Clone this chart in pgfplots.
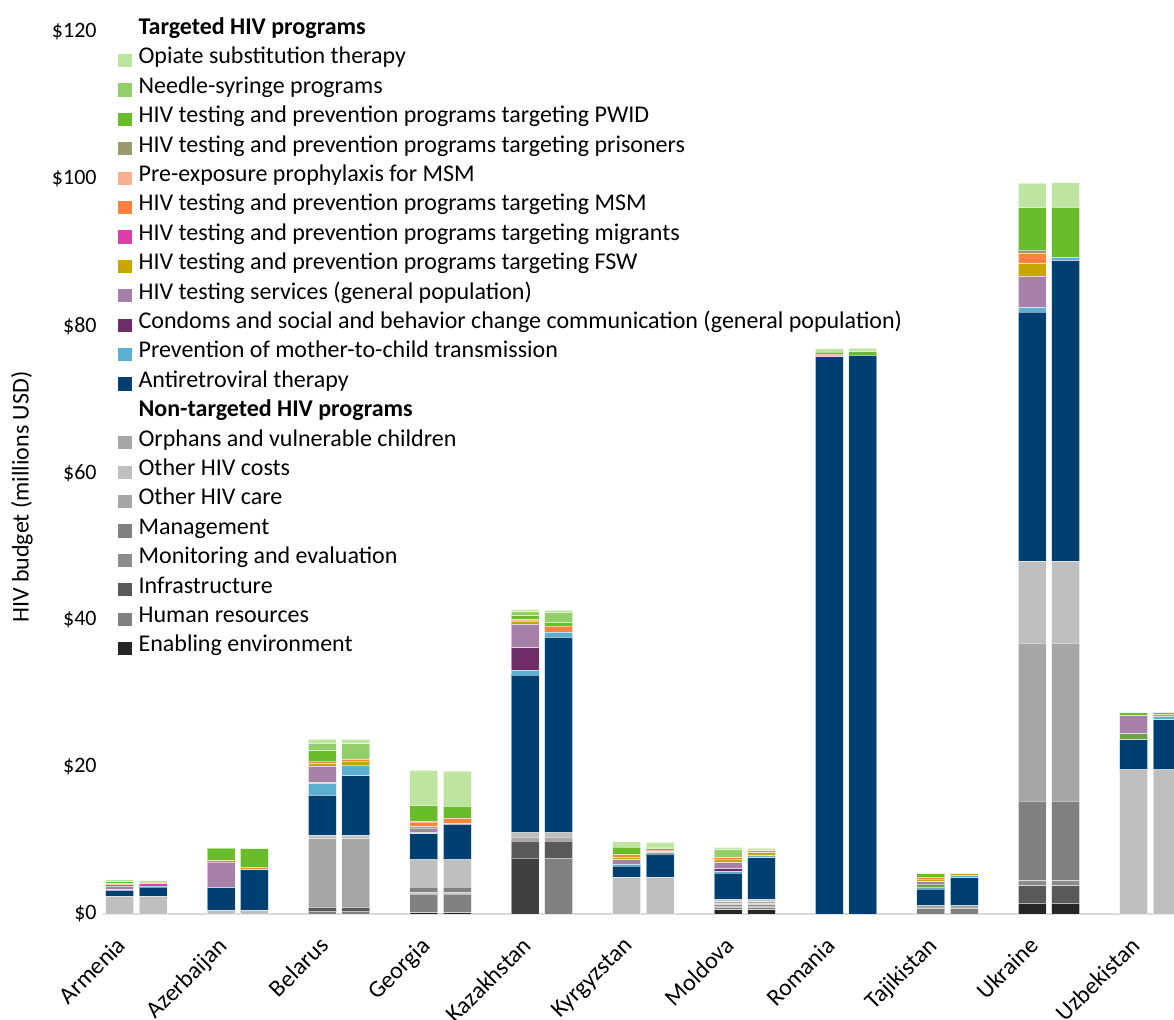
\documentclass[border=0pt]{standalone}
\usepackage{fontspec}
\setmainfont{Carlito}
\usepackage{pgfplots}
\usepackage{pgfplotstable}
\pgfplotsset{compat=1.18}

\definecolor{cEE}{HTML}{262626}
\definecolor{cKZ}{HTML}{404040}
\definecolor{cHR}{HTML}{808080}
\definecolor{cINF}{HTML}{595959}
\definecolor{cME}{HTML}{8C8C8C}
\definecolor{cMG}{HTML}{808080}
\definecolor{cOC}{HTML}{A6A6A6}
\definecolor{cOCO}{HTML}{BFBFBF}
\definecolor{cOVC}{HTML}{A6A6A6}
\definecolor{cART}{HTML}{003F72}
\definecolor{cPMTCT}{HTML}{5BAFD0}
\definecolor{cCON}{HTML}{6E2C69}
\definecolor{cUNL}{HTML}{6EA245}
\definecolor{cTST}{HTML}{A680A8}
\definecolor{cFSW}{HTML}{C8A800}
\definecolor{cMIG}{HTML}{DE3DAC}
\definecolor{cMSM}{HTML}{FF8040}
\definecolor{cPREP}{HTML}{F8B090}
\definecolor{cPRI}{HTML}{9A9A6A}
\definecolor{cPWID}{HTML}{6ABD2A}
\definecolor{cNSP}{HTML}{92CF68}
\definecolor{cOST}{HTML}{BDE5A0}

\pgfplotstableread{
x EE KZ HR INF ME MG OC OCO OVC ART PMTCT CON UNL TST FSW MIG MSM PREP PRI PWID NSP OST
-0.165 0 0 0 0 0 0 0 2.4 0 0.8 0.1 0 0 0.45 0.05 0.2 0.1 0 0 0.3 0 0.25
0.165 0 0 0 0 0 0 0 2.4 0 1.25 0.15 0 0 0 0 0.3 0.05 0 0 0 0 0.4
0.835 0 0 0 0 0 0 0 0.5 0 3.1 0 0 0 3.45 0.2 0 0 0 0 1.7 0 0
1.165 0 0 0 0 0 0 0 0.5 0 5.5 0.1 0 0 0 0 0 0.25 0 0 2.55 0 0
1.835 0 0 0.4 0.5 0 0 9.4 0.35 0 5.5 1.55 0 0.15 2.25 0.35 0 0.35 0 0 1.4 1.0 0.6
2.165 0 0 0.4 0.5 0 0 9.4 0.35 0 8.15 1.45 0 0 0 0.55 0 0.25 0 0 0 2.1 0.6
2.835 0.15 0 2.55 0.1 0.1 0.75 0 3.7 0 3.55 0.15 0 0 0.65 0.2 0 0.6 0.15 0 2.1 0 4.8
3.165 0.15 0 2.55 0.1 0.1 0.75 0 3.7 0 4.85 0.1 0 0 0 0 0 0.7 0 0 1.65 0 4.8
3.835 0 7.6 0 2.3 0 0 0.55 0.6 0 21.45 0.65 3.05 0 3.2 0.45 0 0 0.25 0 0.5 0.5 0.3
4.165 0 0 7.6 2.3 0 0 0.55 0.6 0 26.6 0.65 0 0 0 0 0 0.85 0 0 0.5 1.4 0.3
4.835 0 0 0 0 0 0 0 5.0 0 1.5 0.25 0 0 0.6 0.3 0 0.4 0 0 1.05 0 0.7
5.165 0 0 0 0 0 0 0 5.0 0 3.15 0.2 0 0 0 0.1 0 0.25 0 0 0.2 0.2 0.6
5.835 0.55 0 0.3 0.2 0.2 0.15 0.3 0.25 0 3.6 0.25 0.35 0 0.8 0.5 0 0.2 0 0 0 1.1 0.3
6.165 0.55 0 0.3 0.2 0.2 0.15 0.3 0.25 0 5.7 0.3 0 0 0 0.35 0 0.3 0 0 0 0 0.35
6.835 0 0 0 0 0 0 0 0 0 75.8 0 0 0 0.25 0 0 0.1 0 0 0.3 0 0.45
7.165 0 0 0 0 0 0 0 0 0 76.0 0 0 0 0 0 0 0 0 0 0.5 0 0.5
7.835 0 0 0.75 0 0 0 0.35 0 0 2.3 0.25 0 0.4 0.35 0.35 0 0.25 0 0 0.45 0 0.15
8.165 0 0 0.75 0 0 0 0.35 0 0 3.85 0.3 0 0 0 0.2 0 0 0 0 0 0 0.1
8.835 1.45 0 0 2.4 0.7 10.8 21.5 11.15 0 33.9 0.55 0 0 4.3 1.7 0 1.4 0 0.45 5.8 0 3.35
9.165 1.45 0 0 2.4 0.7 10.8 21.5 11.15 0 40.9 0.45 0 0 0 0 0 0 0 0 6.8 0 3.35
9.835 0 0 0 0 0 0 0 19.6 0 4.1 0 0 0.8 2.45 0 0 0 0 0 0.4 0 0
10.165 0 0 0 0 0 0 0 19.6 0 6.8 0.5 0 0 0 0.25 0 0 0 0 0.25 0 0
}\data

\pgfplotsset{
  seg/.style={fill=#1, draw=white, draw opacity=0.5, line width=0.5pt, forget plot},
  sqleg/.style={legend image code/.code={\fill[##1, draw=none] (0pt,-3.3pt) rectangle (6.6pt,3.3pt);}},
}

\begin{document}
\fontsize{12}{14.6}\selectfont
\begin{tikzpicture}
\begin{axis}[
  at={(0pt,0pt)}, anchor=south west,
  scale only axis,
  width=535.5pt, height=457pt,
  ybar stacked, bar width=0.276, bar shift=0pt,
  xmin=-0.329, xmax=10.233,
  ymin=0, ymax=124.35,
  font=\fontsize{12}{14.6}\selectfont,
  axis x line*=bottom, axis y line*=left,
  x axis line style={-, draw=black!15, line width=0.8pt},
  y axis line style={draw=none},
  major tick length=0pt,
  xtick={0,1,...,10},
  xticklabels={Armenia,Azerbaijan,Belarus,Georgia,Kazakhstan,Kyrgyzstan,Moldova,Romania,Tajikistan,Ukraine,Uzbekistan},
  x tick label style={xshift=-10.5pt, yshift=-9pt, rotate=45, anchor=north east, inner sep=1pt, font=\fontsize{12}{14.6}\selectfont},
  ytick={0,20,...,120},
  yticklabels={\$0,\$20,\$40,\$60,\$80,\$100,\$120},
  y tick label style={font=\fontsize{11}{13.4}\selectfont, inner sep=3pt},
  ylabel={HIV budget (millions USD)},
  ylabel style={at={(axis description cs:-0.0756,0.456)}, anchor=center, font=\fontsize{12}{14.6}\selectfont},
  legend cell align=left,
  legend style={draw=none, fill=none, at={(axis description cs:0.014,0.9824)}, anchor=north west,
    inner sep=0pt, row sep=0pt, column sep=3.5pt,
    nodes={inner sep=0pt, text height=9pt, text depth=5.7pt},
    font=\fontsize{12}{14.6}\selectfont},
]
\addplot[seg=cEE] table[x=x,y=EE]{\data};
\addplot[seg=cKZ] table[x=x,y=KZ]{\data};
\addplot[seg=cHR] table[x=x,y=HR]{\data};
\addplot[seg=cINF] table[x=x,y=INF]{\data};
\addplot[seg=cME] table[x=x,y=ME]{\data};
\addplot[seg=cMG] table[x=x,y=MG]{\data};
\addplot[seg=cOC] table[x=x,y=OC]{\data};
\addplot[seg=cOCO] table[x=x,y=OCO]{\data};
\addplot[seg=cOVC] table[x=x,y=OVC]{\data};
\addplot[seg=cART] table[x=x,y=ART]{\data};
\addplot[seg=cPMTCT] table[x=x,y=PMTCT]{\data};
\addplot[seg=cCON] table[x=x,y=CON]{\data};
\addplot[seg=cUNL] table[x=x,y=UNL]{\data};
\addplot[seg=cTST] table[x=x,y=TST]{\data};
\addplot[seg=cFSW] table[x=x,y=FSW]{\data};
\addplot[seg=cMIG] table[x=x,y=MIG]{\data};
\addplot[seg=cMSM] table[x=x,y=MSM]{\data};
\addplot[seg=cPREP] table[x=x,y=PREP]{\data};
\addplot[seg=cPRI] table[x=x,y=PRI]{\data};
\addplot[seg=cPWID] table[x=x,y=PWID]{\data};
\addplot[seg=cNSP] table[x=x,y=NSP]{\data};
\addplot[seg=cOST] table[x=x,y=OST]{\data};

\addlegendimage{empty legend}\addlegendentry{\textbf{Targeted HIV programs}}
\addlegendimage{sqleg, fill=cOST}\addlegendentry{Opiate substitution therapy}
\addlegendimage{sqleg, fill=cNSP}\addlegendentry{Needle-syringe programs}
\addlegendimage{sqleg, fill=cPWID}\addlegendentry{HIV testing and prevention programs targeting PWID}
\addlegendimage{sqleg, fill=cPRI}\addlegendentry{HIV testing and prevention programs targeting prisoners}
\addlegendimage{sqleg, fill=cPREP}\addlegendentry{Pre-exposure prophylaxis for MSM}
\addlegendimage{sqleg, fill=cMSM}\addlegendentry{HIV testing and prevention programs targeting MSM}
\addlegendimage{sqleg, fill=cMIG}\addlegendentry{HIV testing and prevention programs targeting migrants}
\addlegendimage{sqleg, fill=cFSW}\addlegendentry{HIV testing and prevention programs targeting FSW}
\addlegendimage{sqleg, fill=cTST}\addlegendentry{HIV testing services (general population)}
\addlegendimage{sqleg, fill=cCON}\addlegendentry{Condoms and social and behavior change communication (general population)}
\addlegendimage{sqleg, fill=cPMTCT}\addlegendentry{Prevention of mother-to-child transmission}
\addlegendimage{sqleg, fill=cART}\addlegendentry{Antiretroviral therapy}
\addlegendimage{empty legend}\addlegendentry{\textbf{Non-targeted HIV programs}}
\addlegendimage{sqleg, fill=cOVC}\addlegendentry{Orphans and vulnerable children}
\addlegendimage{sqleg, fill=cOCO}\addlegendentry{Other HIV costs}
\addlegendimage{sqleg, fill=cOC}\addlegendentry{Other HIV care}
\addlegendimage{sqleg, fill=cMG}\addlegendentry{Management}
\addlegendimage{sqleg, fill=cME}\addlegendentry{Monitoring and evaluation}
\addlegendimage{sqleg, fill=cINF}\addlegendentry{Infrastructure}
\addlegendimage{sqleg, fill=cHR}\addlegendentry{Human resources}
\addlegendimage{sqleg, fill=cEE}\addlegendentry{Enabling environment}
\end{axis}
\pgfresetboundingbox
\path[use as bounding box] (-51.5pt,-52.5pt) rectangle (535.5pt,457pt);
\end{tikzpicture}
\end{document}
